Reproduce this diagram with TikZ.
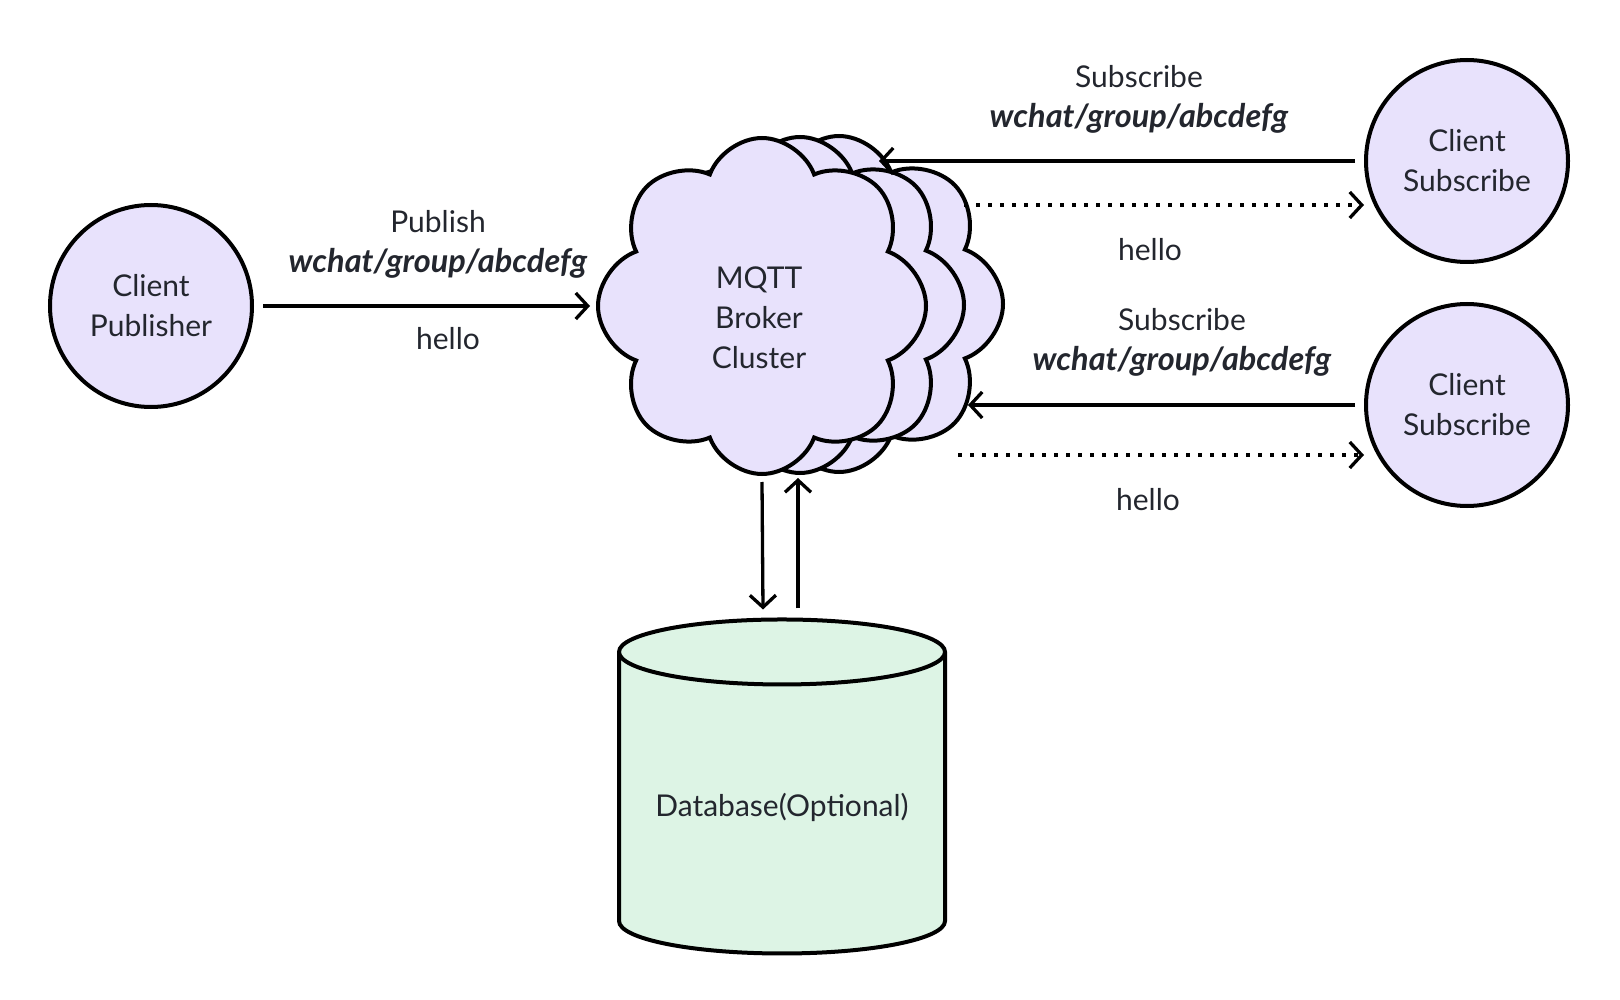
\documentclass[tikz,border=0pt]{standalone}
\usepackage{fontspec}
\setmainfont{Lato}
\usetikzlibrary{positioning,arrows.meta,shapes.geometric,shapes.symbols}
\definecolor{clientfill}{HTML}{E8E2FC}
\definecolor{dbfill}{HTML}{DDF4E5}
\definecolor{inktext}{HTML}{23262E}
\newcommand{\topicname}{{\fontsize{32.5}{40}\selectfont\textbf{\textit{wchat/group/abcdefg}}}}
\tikzset{
  client/.style={circle,draw=black,line width=4pt,fill=clientfill,minimum size=202pt,align=center,text=inktext},
  brokercloud/.style={cloud,cloud puffs=8,cloud puff arc=140,draw=black,line width=4pt,fill=clientfill,minimum width=328pt,minimum height=336pt,align=center,text=inktext},
  dbcyl/.style={cylinder,shape border rotate=90,aspect=0.25,draw=black,line width=4pt,fill=dbfill,minimum width=326pt,minimum height=334pt,text=inktext},
  lbl/.style={align=center,text=inktext},
  arrow/.style={-{Straight Barb[length=12pt,width=26pt]},line width=3.3pt},
  dotarrow/.style={arrow,dash pattern=on 4pt off 8pt}
}
\begin{document}
\begin{tikzpicture}[x=1pt,y=-1pt,font=\fontsize{30}{40}\selectfont]
\useasboundingbox (0,0) rectangle (1620,1000);

% clients
\node[client] (pub) at (151,306) {Client\\Publisher};
\node[client] (sub1) at (1467,161) {Client\\Subscribe};
\node[client] (sub2) at (1467,405) {Client\\Subscribe};

% broker cluster, back to front
\node[brokercloud] (brokerB) at (839,304) {};
\node[brokercloud] (brokerM) at (800,305) {};
\node[brokercloud] (broker) at (762,306) {};
\node[lbl] (brokertxt) at (759,318) {MQTT\\Broker\\Cluster};

% storage
\node[dbcyl] (db) at (782,807) {Database(Optional)};

% publish
\draw[arrow] ([xshift=9pt]pub.east) -- ([xshift=-6pt]pub.east -| broker.west);
\node[lbl] (pubtxt) at (438,244) {Publish\\\topicname};
\node[lbl] (pubhello) at (448,339) {hello};

% first subscriber
\coordinate (in1) at (879,161);
\coordinate (out1) at (964,205);
\draw[arrow] ([xshift=-9pt]sub1.west) -- (in1);
\draw[dotarrow] (out1) -- (out1 -| sub1.west);
\node[lbl] (subtxt1) at (1139,99) {Subscribe\\\topicname};
\node[lbl] (hello1) at (1150,250) {hello};

% second subscriber
\coordinate (in2) at (968,405);
\coordinate (out2) at (958,455);
\draw[arrow] ([xshift=-9pt]sub2.west) -- (in2);
\draw[dotarrow] (out2) -- (out2 -| sub2.west);
\node[lbl] (subtxt2) at (1182,342) {Subscribe\\\topicname};
\node[lbl] (hello2) at (1148,500) {hello};

% database link
\draw[arrow] ([yshift=-176pt]broker.center) -- ([xshift=-19pt,yshift=8pt]db.north);
\draw[arrow] ([xshift=16pt,yshift=9pt]db.north) -- ([xshift=36pt,yshift=-172pt]broker.center);
\end{tikzpicture}
\end{document}
